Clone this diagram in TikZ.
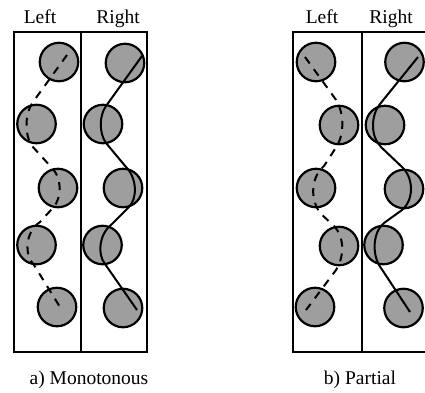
\documentclass[tikz,border=0pt]{standalone}
\usepackage{fontspec}
\setmainfont{Liberation Serif}
\begin{document}
\begin{tikzpicture}[x=1pt,y=-1pt,
  ball/.style={circle,draw=black,line width=2.2pt,fill=black!38,minimum size=38.5pt,inner sep=0pt},
  frame/.style={line width=1.8pt},
  solidpath/.style={line width=2pt},
  dashpath/.style={line width=2pt,dash pattern=on 8pt off 7pt},
  lbl/.style={anchor=base,inner sep=0pt,font=\fontsize{19.5}{22}\selectfont}]
\useasboundingbox (0,0) rectangle (425,392);
% frames
\draw[frame] (14,32) rectangle (147,352);
\draw[frame] (81,32) -- (81,352);
\draw[frame] (426,32) -- (293,32) -- (293,352) -- (426,352);
\draw[frame] (362,32) -- (362,352);
% labels
\node[lbl] (aleft) at (40,23) {Left};
\node[lbl] (aright) at (118,23) {Right};
\node[lbl] (bleft) at (322,23) {Left};
\node[lbl] (bright) at (391,23) {Right};
\node[lbl] (acap) at (89,384) {a) Monotonous};
\node[lbl] (bcap) at (360,384) {b) Partial};
% panel a circles
\node[ball] (aL1) at (59,62) {};
\node[ball] (aL2) at (36.5,124) {};
\node[ball] (aL3) at (58,188) {};
\node[ball] (aL4) at (36.5,245) {};
\node[ball] (aL5) at (57,307) {};
\node[ball] (aR1) at (125,63) {};
\node[ball] (aR2) at (103,124) {};
\node[ball] (aR3) at (123,188) {};
\node[ball] (aR4) at (102.5,245) {};
\node[ball] (aR5) at (123,308) {};
% panel b circles
\node[ball] (bL1) at (316,62) {};
\node[ball] (bL2) at (339,125) {};
\node[ball] (bL3) at (316,188) {};
\node[ball] (bL4) at (339,246) {};
\node[ball] (bL5) at (315,307) {};
\node[ball] (bR1) at (404.5,62) {};
\node[ball] (bR2) at (385,125) {};
\node[ball] (bR3) at (404,189) {};
\node[ball] (bR4) at (383.5,245) {};
\node[ball] (bR5) at (403.5,308) {};
% trajectories panel a
\draw[solidpath] (142,56) -- (106,106) .. controls (99,116) and (99,133) .. (106,143)
  -- (126,167) .. controls (137,178) and (138,199) .. (128,208)
  -- (112,224) .. controls (99,234) and (97,254) .. (105,264) -- (137,310);
\draw[dashpath] (67,55) -- (33,102) .. controls (25,113) and (24,134) .. (32,146)
  -- (52,168) .. controls (62,178) and (63,200) .. (50,211)
  -- (40,222) .. controls (25,232) and (24,255) .. (34,265) -- (60,307);
% trajectories panel b
\draw[solidpath] (418,57) -- (380,104) .. controls (371,115) and (370,136) .. (381,147)
  -- (402,167) .. controls (414,178) and (414,200) .. (402,210)
  -- (384,223) .. controls (372,233) and (372,256) .. (381,268) -- (410,312);
\draw[dashpath] (305,57) -- (334,97) .. controls (344,110) and (345,132) .. (337,146)
  -- (324,166) .. controls (312,176) and (309,197) .. (320,213)
  -- (334,226) .. controls (344,236) and (345,256) .. (336,270) -- (306,310);
\end{tikzpicture}
\end{document}
